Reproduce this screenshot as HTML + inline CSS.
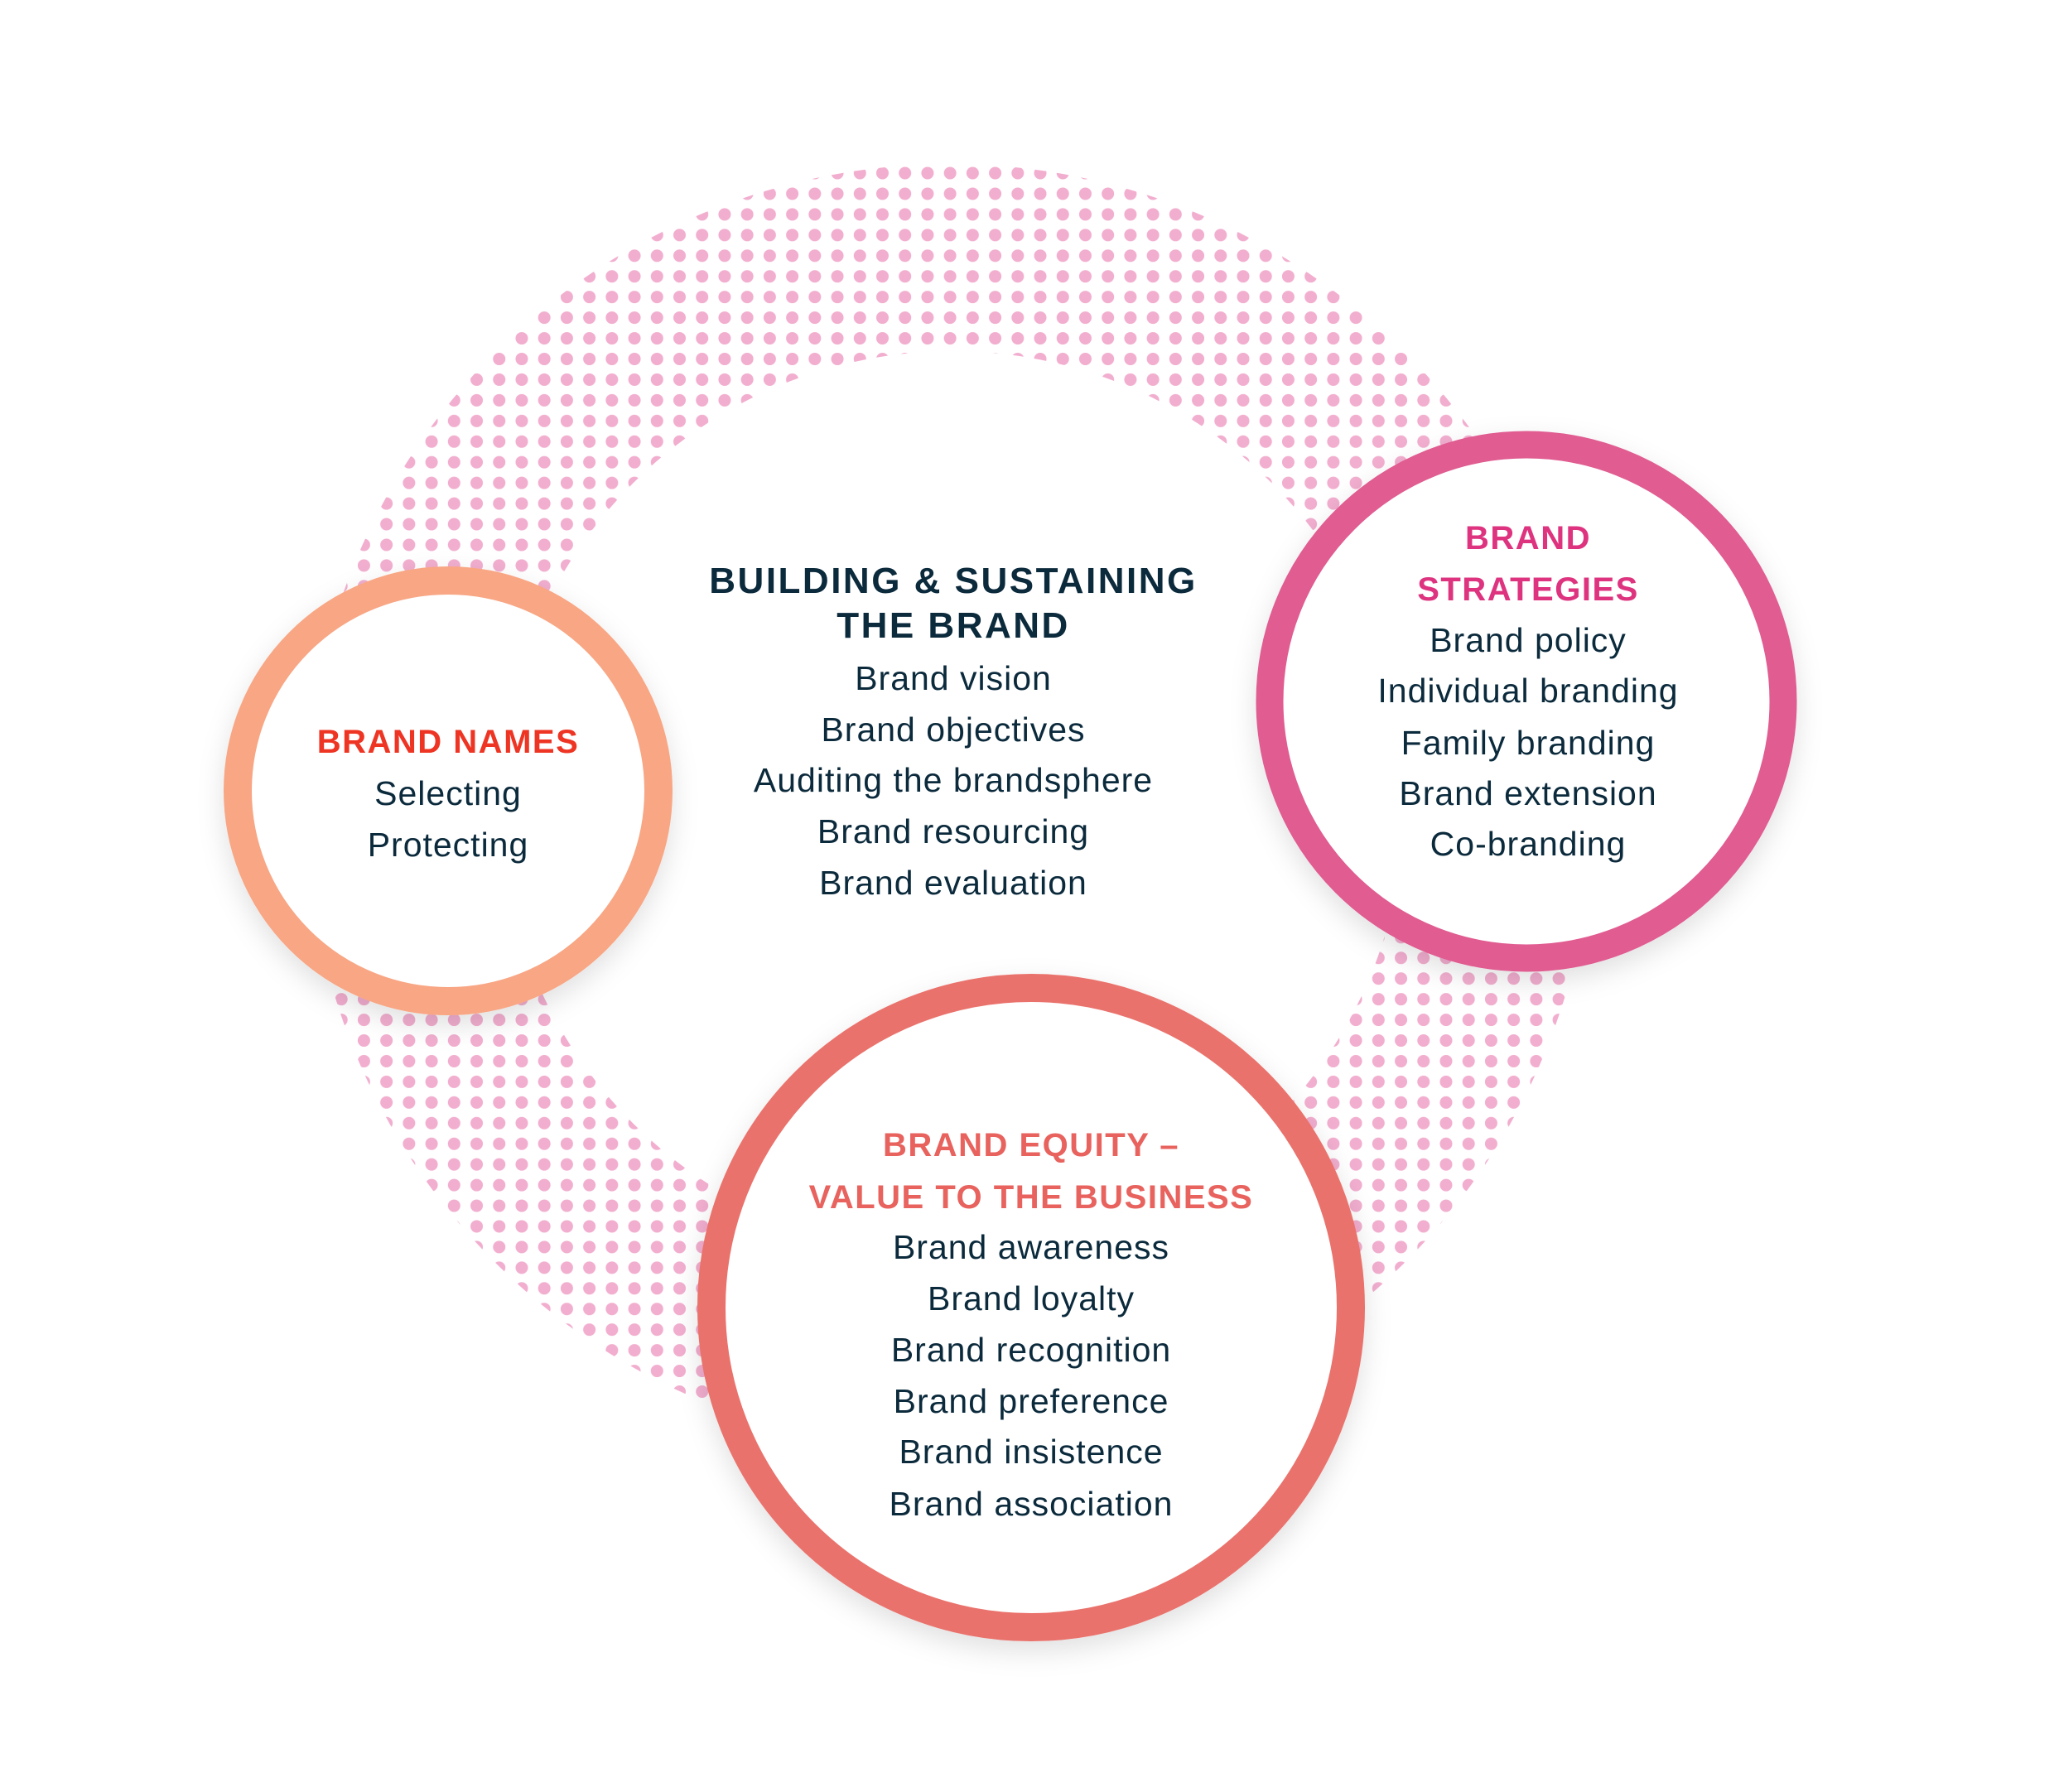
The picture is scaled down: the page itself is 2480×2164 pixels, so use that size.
<!DOCTYPE html>
<html><head><meta charset="utf-8"><style>
html,body{margin:0;padding:0;background:#fff;}
svg{display:block;}
.t{font-family:"Liberation Sans",sans-serif;font-weight:bold;font-size:40px;letter-spacing:1.5px;text-anchor:middle;}
.tm{font-family:"Liberation Sans",sans-serif;font-weight:bold;font-size:44px;letter-spacing:2.5px;text-anchor:middle;}
.b{font-family:"Liberation Sans",sans-serif;font-size:41px;letter-spacing:1px;fill:#0B2A3C;text-anchor:middle;}
</style></head><body>
<svg width="2480" height="2164" viewBox="0 0 2480 2164" xmlns="http://www.w3.org/2000/svg">
<defs>
<pattern id="dots" patternUnits="userSpaceOnUse" x="3.9" y="9.5" width="27.22" height="24.94">
<circle cx="0" cy="0" r="7.5" fill="#F2AECF"/>
<circle cx="27.22" cy="0" r="7.5" fill="#F2AECF"/>
<circle cx="0" cy="24.94" r="7.5" fill="#F2AECF"/>
<circle cx="27.22" cy="24.94" r="7.5" fill="#F2AECF"/>
</pattern>
<mask id="ring">
<rect width="2480" height="2164" fill="#000"/>
<circle cx="1147" cy="975" r="777" fill="#fff"/>
<circle cx="1150" cy="970" r="546" fill="#000"/>
</mask>
<filter id="sh" x="-20%" y="-20%" width="140%" height="140%">
<feDropShadow dx="0" dy="12" stdDeviation="16" flood-color="#000" flood-opacity="0.12"/>
</filter>
</defs>
<rect width="2480" height="2164" fill="#fff"/>
<rect width="2480" height="2164" fill="url(#dots)" mask="url(#ring)"/>

<circle cx="541" cy="955" r="254" fill="#fff" stroke="#F8A684" stroke-width="34" filter="url(#sh)"/>
<circle cx="1843" cy="847" r="310" fill="#fff" stroke="#E05B91" stroke-width="33" filter="url(#sh)"/>
<circle cx="1245" cy="1579" r="386" fill="#fff" stroke="#EA726C" stroke-width="34" filter="url(#sh)"/>

<text class="tm" x="1151" y="716" fill="#0B2A3C">BUILDING &amp; SUSTAINING</text>
<text class="tm" x="1151" y="770" fill="#0B2A3C">THE BRAND</text>
<text class="b" x="1151" y="833">Brand vision</text>
<text class="b" x="1151" y="895">Brand objectives</text>
<text class="b" x="1151" y="956">Auditing the brandsphere</text>
<text class="b" x="1151" y="1018">Brand resourcing</text>
<text class="b" x="1151" y="1080">Brand evaluation</text>

<text class="t" x="541" y="909" fill="#EE3524">BRAND NAMES</text>
<text class="b" x="541" y="972">Selecting</text>
<text class="b" x="541" y="1034">Protecting</text>

<text class="t" x="1845" y="663" fill="#DE3480">BRAND</text>
<text class="t" x="1845" y="725" fill="#DE3480">STRATEGIES</text>
<text class="b" x="1845" y="787">Brand policy</text>
<text class="b" x="1845" y="848">Individual branding</text>
<text class="b" x="1845" y="911">Family branding</text>
<text class="b" x="1845" y="972">Brand extension</text>
<text class="b" x="1845" y="1033">Co-branding</text>

<text class="t" x="1245" y="1396" fill="#E8625E">BRAND EQUITY –</text>
<text class="t" x="1245" y="1459" fill="#E8625E">VALUE TO THE BUSINESS</text>
<text class="b" x="1245" y="1520">Brand awareness</text>
<text class="b" x="1245" y="1582">Brand loyalty</text>
<text class="b" x="1245" y="1644">Brand recognition</text>
<text class="b" x="1245" y="1706">Brand preference</text>
<text class="b" x="1245" y="1767">Brand insistence</text>
<text class="b" x="1245" y="1830">Brand association</text>
</svg>
</body></html>
